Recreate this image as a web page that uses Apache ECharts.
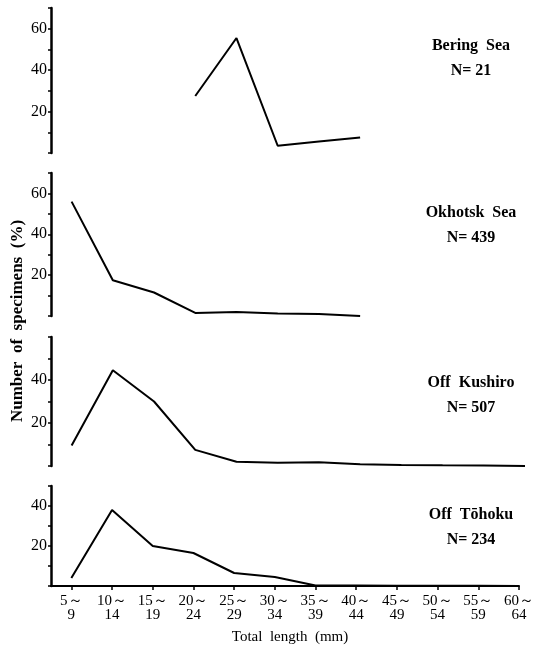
<!DOCTYPE html>
<html>
<head>
<meta charset="utf-8">
<script src="https://cdn.jsdelivr.net/npm/echarts@6/dist/echarts.min.js"></script>
<style>
  html, body { margin: 0; padding: 0; background: #fff; }
  #chart { width: 537px; height: 653px; }
</style>
</head>
<body>
<div id="chart"></div>
<script>
// size classes (total length, mm)
const categories = ['5～\n9', '10～\n14', '15～\n19', '20～\n24', '25～\n29', '30～\n34',
  '35～\n39', '40～\n44', '45～\n49', '50～\n54', '55～\n59', '60～\n64']

// percent of specimens per class
const bering = [null, null, null, 27.5, 55.5, 3.5, 5.5, 7.5, null, null, null, null]
const okhotsk = [56, 17.5, 11.5, 1.5, 2, 1.2, 1, 0, null, null, null, null]
const kushiro = [9.5, 44.5, 30, 7.5, 2, 1.5, 1.8, 0.8, 0.5, 0.3, 0.2, 0]
const tohoku = [4, 38, 20, 16.5, 6.5, 4.5, 0.3, 0.2, 0.1, 0.1, 0.1, 0]

// labelled y ticks per panel
const beringTicks = [20, 40, 60]
const okhotskTicks = [20, 40, 60]
const kushiroTicks = [20, 40]
const tohokuTicks = [20, 40]

const panels = [
  { name: 'Bering  Sea', n: 'N= 21', data: bering, ticks: beringTicks, max: 70, top: 8, height: 145, labelY: 43 },
  { name: 'Okhotsk  Sea', n: 'N= 439', data: okhotsk, ticks: okhotskTicks, max: 70, top: 173, height: 143, labelY: 210 },
  { name: 'Off  Kushiro', n: 'N= 507', data: kushiro, ticks: kushiroTicks, max: 60, top: 337, height: 129, labelY: 380 },
  { name: 'Off  Tōhoku', n: 'N= 234', data: tohoku, ticks: tohokuTicks, max: 50, top: 486, height: 100, labelY: 512 }
]

const serif = '"Liberation Serif", "DejaVu Serif", serif'
const chart = echarts.init(document.getElementById('chart'))

const grid = []
const xAxis = []
const yAxis = []
const series = []
const graphic = []

panels.forEach((p, i) => {
  const last = i === panels.length - 1
  grid.push({ left: 51, right: 12, top: p.top, height: p.height })
  xAxis.push({
    type: 'value',
    gridIndex: i,
    min: -0.5,
    max: 11,
    show: last,
    splitLine: { show: false },
    axisLine: { show: last, onZero: false, lineStyle: { color: '#000', width: 2 } },
    axisTick: {
      show: last,
      customValues: categories.map((c, k) => k),
      length: 4,
      lineStyle: { color: '#000', width: 1.5 }
    },
    axisLabel: {
      show: last,
      customValues: categories.map((c, k) => k),
      formatter: (v) => categories[Math.round(v)] || '',
      fontFamily: serif,
      fontSize: 15,
      lineHeight: 14,
      color: '#000',
      margin: 8
    },
    name: last ? 'Total  length  (mm)' : '',
    nameLocation: 'middle',
    nameGap: 44,
    nameTextStyle: { fontFamily: serif, fontSize: 15, color: '#000', padding: [0, 0, 0, 10] }
  })
  yAxis.push({
    type: 'value',
    gridIndex: i,
    min: 0,
    max: p.max,
    interval: 10,
    splitLine: { show: false },
    axisLine: { show: true, onZero: false, lineStyle: { color: '#000', width: 2.5 } },
    axisTick: { show: true, length: 3, lineStyle: { color: '#000', width: 1.5 } },
    axisLabel: {
      formatter: (v) => (p.ticks.indexOf(v) >= 0 ? String(v) : ''),
      fontFamily: serif,
      fontSize: 16,
      color: '#000',
      margin: 4
    }
  })
  series.push({
    type: 'line',
    xAxisIndex: i,
    yAxisIndex: i,
    symbol: 'none',
    silent: true,
    lineStyle: { color: '#000', width: 2 },
    data: p.data.map((v, k) => [k, v])
  })
  graphic.push({
    type: 'text',
    style: {
      text: p.name + '\n' + p.n,
      x: 471,
      y: p.labelY - 10,
      align: 'center',
      fontFamily: serif,
      fontSize: 16,
      fontWeight: 'bold',
      lineHeight: 25,
      fill: '#000'
    }
  })
})

graphic.push({
  type: 'text',
  rotation: Math.PI / 2,
  x: 18,
  y: 321,
  style: {
    text: 'Number  of  specimens  (%)',
    align: 'center',
    verticalAlign: 'middle',
    fontFamily: serif,
    fontSize: 17,
    fontWeight: 'bold',
    fill: '#000'
  }
})

chart.setOption({
  animation: false,
  grid: grid,
  xAxis: xAxis,
  yAxis: yAxis,
  series: series,
  graphic: graphic
})
</script>
</body>
</html>
